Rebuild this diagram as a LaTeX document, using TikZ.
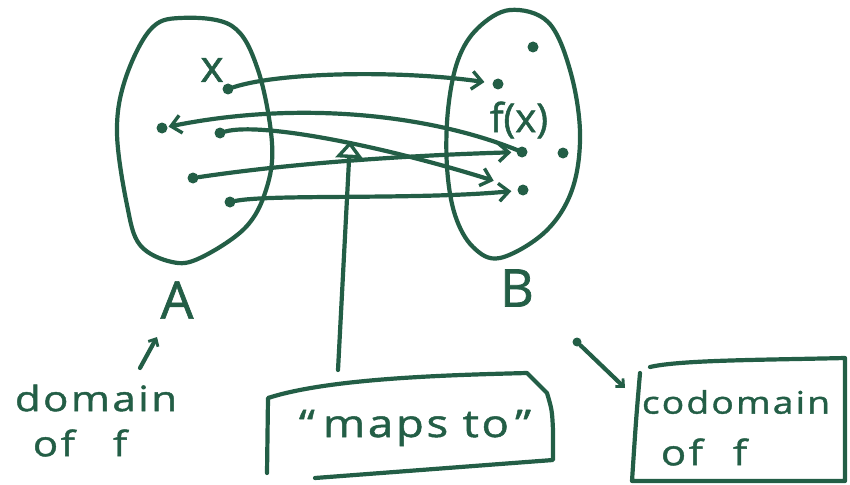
\documentclass[tikz,border=0pt]{standalone}
\usepackage{fontspec}
\setmainfont{Open Sans}
\newfontfamily\hand[FakeStretch=1.2,LetterSpace=7,FakeBold=1.3]{Open Sans}
\newfontfamily\handn[FakeBold=1.3]{Open Sans}
\usetikzlibrary{arrows.meta}
\definecolor{ink}{RGB}{35,94,70}
\begin{document}
\begin{tikzpicture}[x=1pt,y=-1pt,
  pen/.style={draw=ink, line width=4.2pt, line cap=round, line join=round},
  arr/.style={pen, -{Straight Barb[length=10pt,width=18pt,line width=3.4pt]}},
  dot/.style={circle, fill=ink, inner sep=0pt, minimum size=11pt},
  word/.style={text=ink, inner sep=0pt, font=\hand\fontsize{35}{40}\selectfont},
  big/.style={text=ink, inner sep=0pt, font=\handn\fontsize{52}{56}\selectfont}]
\useasboundingbox (0,0) rectangle (850,484);
% sets
\draw[pen] plot[smooth cycle, tension=0.6] coordinates {(180,18) (232,26) (258,70) (272,143) (266,190) (245,228) (200,258) (172,262) (140,245) (127,205) (117,133) (125,80) (150,30)};
\draw[pen] plot[smooth cycle, tension=0.6] coordinates {(510,10) (548,22) (570,70) (580,133) (572,190) (545,232) (500,258) (473,247) (455,215) (447,167) (448,110) (458,60) (478,28)};
% dots in A
\node[dot] (a1) at (228,89) {};
\node[dot] (a2) at (162,128) {};
\node[dot] (a3) at (220,133) {};
\node[dot] (a4) at (193,178) {};
\node[dot] (a5) at (230,202) {};
% dots in B
\node[dot] (b1) at (498,84) {};
\node[dot] (b2) at (522,152) {};
\node[dot] (b3) at (523,190) {};
\node[dot] (b4) at (533,47) {};
\node[dot] (b5) at (563,153) {};
% labels
\node[text=ink, inner sep=0pt, font=\handn\fontsize{44}{48}\selectfont] (xl) at (212,70) {x};
\node[text=ink, inner sep=0pt, font=\handn\fontsize{40}{44}\selectfont] (fx) at (519,120) {f(x)};
\node[big] (A) at (177,300) {A};
\node[big] (B) at (517,288) {B};
% mapping arrows
\draw[arr, shorten >=8pt] (a1) .. controls (280,72) and (400,70) .. (b1);
\draw[arr, shorten >=1pt] (b2) .. controls (430,115) and (300,100) .. (a2);
\draw[arr, shorten >=25pt] (a3) .. controls (260,122) and (380,145) .. (b3);
\draw[arr, shorten >=5pt] (a4) .. controls (300,162) and (420,155) .. (b2);
\draw[arr, shorten >=6pt] (a5) .. controls (270,194) and (420,200) .. (b3);
% maps to
\coordinate (mp) at (338,370);
\coordinate (tri) at (350,141);
\draw[pen, -{Triangle[open,length=17pt,width=27pt,line width=3.4pt]}] (mp) -- (tri);
\draw[pen] (267,473) -- (268,398) .. controls (330,378) and (450,375) .. (527,373) -- (547,393) .. controls (552,410) .. (553,430) -- (553,460) -- (315,478);
\node[word, font=\hand\fontsize{38}{44}\selectfont] (maps) at (415,428) {“\hspace{8pt}maps to\hspace{6pt}”};
% domain
\node[word] (dom) at (96,398) {domain};
\node[word] (dof) at (80,443) {of\hspace{38pt}f};
\coordinate (ds) at (140,368);
\coordinate (de) at (157,337);
\draw[pen, -{Straight Barb[length=6pt,width=11pt,line width=2.8pt]}] (ds) -- (de);
% codomain
\draw[pen] (640,373) .. controls (636,420) .. (632,481) -- (845,481) -- (845,358) .. controls (760,360) and (680,360) .. (650,367);
\node[word, font=\hand\fontsize{31}{36}\selectfont] (cod) at (736,402) {codomain};
\node[word] (cof) at (704,452) {of\hspace{30pt}f};
\node[dot, minimum size=9pt] (bd) at (577,342) {};
\coordinate (cp) at (625,388);
\draw[pen, -{Straight Barb[length=6pt,width=11pt,line width=2.8pt]}] (bd) -- (cp);
\end{tikzpicture}
\end{document}
